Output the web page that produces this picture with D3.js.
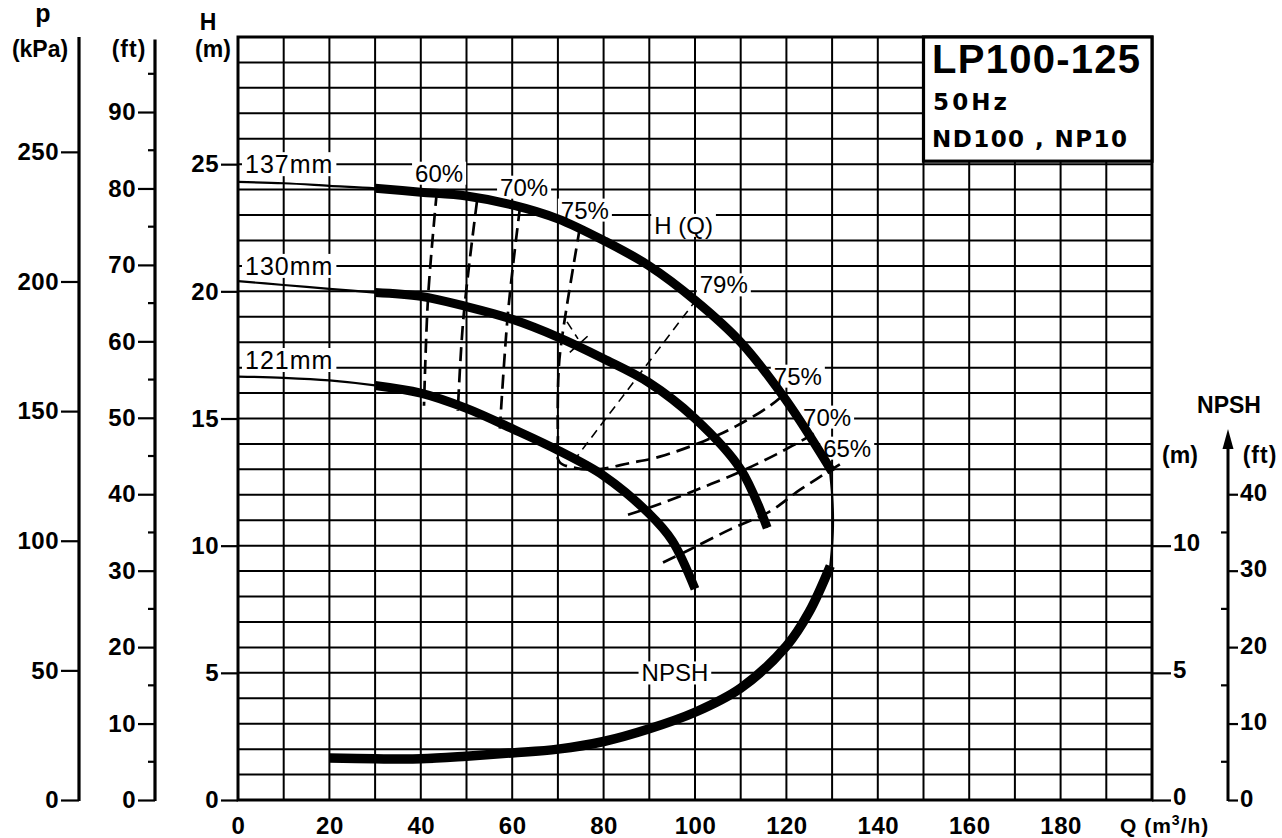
<!DOCTYPE html>
<html><head><meta charset="utf-8">
<script src="https://cdn.jsdelivr.net/npm/d3@7"></script>
<style>
html,body{margin:0;padding:0;background:#fff;}
svg{display:block;font-family:"Liberation Sans",Arial,Helvetica,sans-serif;}
</style></head><body>
<svg id="c" width="1282" height="838"></svg>
<script>
// ---------- data ----------
const xTickVals   = [0,20,40,60,80,100,120,140,160,180];
const hTickVals   = [0,5,10,15,20,25];
const kpaTickVals = [0,50,100,150,200,250];
const ftTickVals  = [0,10,20,30,40,50,60,70,80,90];
const ftMinorVals = [5,15,25,35,45,55,65,75,85,95];
const npshMTickVals  = [0,5,10];
const npshFtTickVals = [0,10,20,30,40];
const npshFtMinorVals= [5,15,25,35];

// impeller curves H(Q)
const q137 = [0,10,20,30,40,50,60,70,80,90,100,110,120,130];
const h137 = [24.3,24.25,24.15,24.05,23.9,23.75,23.4,22.85,22.0,21.0,19.65,18.0,15.7,12.9];
const q130 = [0,10,20,30,40,50,60,70,80,90,100,110,115.8];
const h130 = [20.4,20.25,20.1,19.95,19.8,19.4,18.9,18.2,17.35,16.4,15.0,13.0,10.7];
const q121 = [0,10,20,30,40,50,60,70,80,90,95,100];
const h121 = [16.65,16.6,16.5,16.3,16.0,15.4,14.6,13.75,12.75,11.25,10.2,8.3];
// NPSH
const qNpsh = [20,30,40,50,60,70,80,90,100,110,120,125,129.6];
const hNpsh = [1.65,1.62,1.62,1.72,1.85,2.0,2.3,2.8,3.45,4.4,6.05,7.4,9.2];
const qLink = [129.6,130.0,130.2,130.0,129.5];
const hLink = [9.2,10.0,11.0,12.0,13.0];
// efficiency iso-lines
const qEff60  = [43.5,41.6,40.7];           const hEff60  = [23.9,19.8,15.5];
const qEff65L = [52.3,49.3,48.1];           const hEff65L = [23.55,18.9,15.3];
const qEff70L = [61.7,59.1,57.3];           const hEff70L = [23.3,19.2,14.6];
const qEff75  = [74.8,71.0,70.2,70.0,70.3,74,78.5,85.8,92.3,101.8,109,116.4,119.5];
const hEff75  = [22.5,18.3,17.0,14.3,13.3,13.05,13.0,13.25,13.5,14.1,14.7,15.5,15.95];
const qEff70R = [126,117.9,109.8,100.4,90.9,85.1];
const hEff70R = [14.4,13.6,12.9,12.2,11.55,11.2];
const qEff65R = [131.7,123,116.4,107.7,98.9,93];
const hEff65R = [13.2,12.2,11.35,10.64,9.85,9.34];
const qEff79  = [100.4,73.3];               const hEff79  = [19.7,13.3];
const qEff79a = [72.0,74.4];                const hEff79a = [18.8,18.13];
const qEff79b = [72.6,76.6];                const hEff79b = [17.6,18.25];

// annotation labels (data coordinates)
const labelText = ["137mm","130mm","121mm","60%","70%","75%","H (Q)","79%","75%","70%","65%","NPSH"];
const labelQ    = [11.2,11.2,11.2,44.0,62.6,75.9,97.5,106.3,122.5,128.9,133.3,95.6];
const labelH    = [25.0,21.0,17.3,24.65,24.1,23.2,22.6,20.26,16.67,15.06,13.84,5.0];

// ---------- drawing ----------
const svg = d3.select("#c");
const x = d3.scaleLinear().domain([0,200]).range([238,1152]);
const y = d3.scaleLinear().domain([0,30]).range([800,37]);
const yKpa = d3.scaleLinear().domain([0,30*9.81]).range([800,37]);
const yFt = d3.scaleLinear().domain([0,99.5]).range([800,39.4]);

const zip = (a,b)=>a.map((v,i)=>[v,b[i]]);
const lineC = d3.line().x(d=>x(d[0])).y(d=>y(d[1])).curve(d3.curveCatmullRom.alpha(0.5));

// grid
const g = svg.append("g");
g.selectAll("line.v").data(x.ticks(20)).join("line")
  .attr("x1",d=>x(d)).attr("x2",d=>x(d)).attr("y1",y(0)).attr("y2",y(30))
  .attr("stroke","#000").attr("stroke-width",2);
g.selectAll("line.h").data(y.ticks(30)).join("line")
  .attr("x1",x(0)).attr("x2",x(200)).attr("y1",d=>y(d)).attr("y2",d=>y(d))
  .attr("stroke","#000").attr("stroke-width",2);
g.append("rect").attr("x",x(0)).attr("y",y(30)).attr("width",x(200)-x(0)).attr("height",y(0)-y(30))
  .attr("fill","none").attr("stroke","#000").attr("stroke-width",3);

// axes helpers
function styleAxis(sel){
  sel.selectAll("text").attr("font-size",24).attr("font-weight","bold").attr("fill","#000").attr("letter-spacing","0.5");
  sel.selectAll(".tick line").attr("stroke","#000").attr("stroke-width",2.2);
  sel.select(".domain").remove();
}
// kPa axis
const gk = svg.append("g").attr("transform","translate(79,0)")
  .call(d3.axisLeft(yKpa).tickValues(kpaTickVals).tickSize(18).tickPadding(2).tickSizeOuter(0));
styleAxis(gk);
gk.append("line").attr("x1",0).attr("x2",0).attr("y1",yKpa(0)+1).attr("y2",yKpa.range()[1]).attr("stroke","#000").attr("stroke-width",3.2);
// ft axis
const gf = svg.append("g").attr("transform","translate(155,0)")
  .call(d3.axisLeft(yFt).tickValues(ftTickVals).tickSize(17).tickPadding(2).tickSizeOuter(0));
styleAxis(gf);
gf.append("g").selectAll("line").data(ftMinorVals).join("line")
  .attr("x1",-7).attr("x2",0).attr("y1",d=>yFt(d)).attr("y2",d=>yFt(d)).attr("stroke","#000").attr("stroke-width",2.2);
gf.append("line").attr("x1",0).attr("x2",0).attr("y1",yFt(0)+1).attr("y2",yFt.range()[1]).attr("stroke","#000").attr("stroke-width",3.2);
// H axis
const gh = svg.append("g").attr("transform",`translate(${x(0)},0)`)
  .call(d3.axisLeft(y).tickValues(hTickVals).tickSize(17).tickPadding(2).tickSizeOuter(0));
styleAxis(gh);
// bottom axis
const gb = svg.append("g").attr("transform",`translate(0,${y(0)})`)
  .call(d3.axisBottom(x).tickValues(xTickVals).tickSize(0).tickPadding(17).tickSizeOuter(0));
styleAxis(gb);
// right NPSH (m)
const gr = svg.append("g").attr("transform",`translate(${x(200)},0)`)
  .call(d3.axisRight(y).tickValues(npshMTickVals).tickSize(19).tickPadding(2).tickSizeOuter(0));
styleAxis(gr);
gr.selectAll("text").attr("dy","0.2em");
// right NPSH (ft)
const gr2 = svg.append("g").attr("transform","translate(1228,0)")
  .call(d3.axisRight(yFt).tickValues(npshFtTickVals).tickSize(10).tickPadding(2).tickSizeOuter(0));
styleAxis(gr2);
gr2.selectAll("text").attr("dy","0.25em");
gr2.append("g").selectAll("line").data(npshFtMinorVals).join("line")
  .attr("x1",-7).attr("x2",0).attr("y1",d=>yFt(d)).attr("y2",d=>yFt(d)).attr("stroke","#000").attr("stroke-width",2.2);
gr2.append("line").attr("x1",0).attr("x2",0).attr("y1",yFt(0)+1).attr("y2",445).attr("stroke","#000").attr("stroke-width",3);
gr2.append("path").attr("d","M0,429 L-5.5,449 L5.5,449 Z").attr("fill","#000");

// axis titles
const T = (t,xx,yy,opt={})=>{
  const e = svg.append("text").attr("x",xx).attr("y",yy).text(t)
    .attr("font-size",opt.size||22).attr("font-weight",opt.weight||"bold")
    .attr("text-anchor",opt.anchor||"middle").attr("fill","#000");
  if(opt.family) e.attr("font-family",opt.family);
  if(opt.ls) e.attr("letter-spacing",opt.ls);
  if(opt.len) e.attr("textLength",opt.len).attr("lengthAdjust","spacing");
  return e;
};
T("p",43,22,{size:25});
T("(kPa)",40,57,{size:23});
T("(ft)",129,57,{size:23,ls:1});
T("H",208,30,{size:23});
T("(m)",213,57,{size:23});
T("NPSH",1229,413,{size:23});
T("(m)",1180,463,{size:23});
T("(ft)",1260,463,{size:23,ls:1});
const qt = svg.append("text").attr("x",1120).attr("y",833).attr("font-size",21).attr("font-weight","bold").attr("fill","#000").attr("letter-spacing","1");
qt.append("tspan").text("Q (m");
qt.append("tspan").text("3").attr("font-size",14).attr("dy",-8);
qt.append("tspan").text("/h)").attr("dy",8);

// layers
const labBg = svg.append("g");
const curves = svg.append("g").attr("fill","none").attr("stroke","#000");
const eff = svg.append("g").attr("fill","none").attr("stroke","#000");
const lab = svg.append("g");

[[q137,h137],[q130,h130],[q121,h121]].forEach(([q,h])=>{
  const pts = zip(q,h);
  curves.append("path").attr("d",lineC(pts)).attr("stroke-width",2.2);
  curves.append("path").attr("d",lineC(pts.filter(p=>p[0]>=30))).attr("stroke-width",9).attr("stroke-linecap","butt");
});
curves.append("path").attr("d",lineC(zip(qNpsh,hNpsh))).attr("stroke-width",9.5).attr("stroke-linecap","butt");
curves.append("path").attr("d",lineC(zip(qLink,hLink))).attr("stroke-width",2.2);

[[qEff60,hEff60],[qEff65L,hEff65L],[qEff70L,hEff70L],[qEff75,hEff75],[qEff70R,hEff70R],[qEff65R,hEff65R]].forEach(([q,h])=>{
  eff.append("path").attr("d",lineC(zip(q,h))).attr("stroke-width",2.7).attr("stroke-dasharray","14,7");
});
[[qEff79,hEff79],[qEff79a,hEff79a],[qEff79b,hEff79b]].forEach(([q,h])=>{
  eff.append("path").attr("d",lineC(zip(q,h))).attr("stroke-width",1.6).attr("stroke-dasharray","9,6");
});

labelText.forEach((t,i)=>{
  const isMm = t.endsWith("mm");
  const e = lab.append("text").attr("x",x(labelQ[i])).attr("y",y(labelH[i])).attr("dy","0.36em")
    .attr("text-anchor","middle").attr("font-size",isMm?25:24).attr("fill","#000").text(t);
  if(isMm) e.attr("letter-spacing","1");
  const b = e.node().getBBox();
  labBg.append("rect").attr("x",b.x-3).attr("y",b.y+2).attr("width",b.width+6).attr("height",b.height-4).attr("fill","#fff");
});

// title box
svg.append("rect").attr("x",x(150)).attr("y",y(30)).attr("width",x(200)-x(150)).attr("height",y(25)-y(30)-3)
  .attr("fill","#fff").attr("stroke","#000").attr("stroke-width",3.2);
T("LP100-125",932,73,{size:40,anchor:"start",len:208});
T("50Hz",933,110,{size:23,anchor:"start",len:74,family:"'DejaVu Sans',sans-serif"});
T("ND100 , NP10",932,147,{size:23,anchor:"start",len:195,family:"'DejaVu Sans',sans-serif"});
</script>
</body></html>
